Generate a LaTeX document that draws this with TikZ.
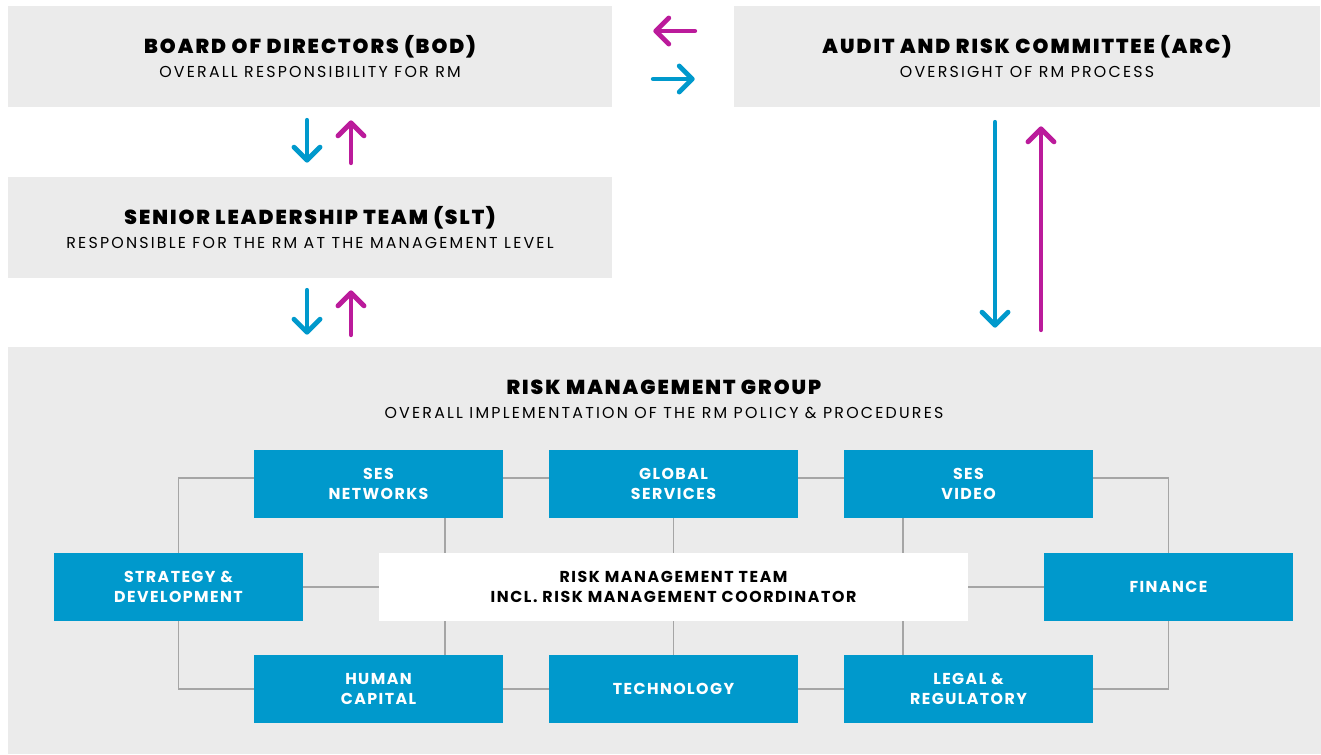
\documentclass[tikz,border=0pt]{standalone}
\usepackage{fontspec}
\setmainfont{Poppins}
\newfontfamily\headfont{Poppins Black}[LetterSpace=10]
\newfontfamily\subfont{Poppins}[LetterSpace=14]
\newfontfamily\boxfont{Poppins}[LetterSpace=9]
\usetikzlibrary{arrows.meta}

\definecolor{panelgray}{RGB}{235,235,235}
\definecolor{sesblue}{RGB}{0,153,204}
\definecolor{sesmagenta}{RGB}{187,27,155}
\definecolor{linkgray}{RGB}{165,165,165}

\newcommand{\paneltitle}[2]{{\headfont\fontsize{11.5}{13}\selectfont #1}\\[1.5pt]
	{\subfont\fontsize{9}{11}\selectfont #2}}

\begin{document}
\begin{tikzpicture}[x=0.02cm, y=-0.02cm,
	panel/.style = {fill = panelgray, inner sep = 0pt, align = center, minimum height = 2.02cm},
	unit/.style = {fill = sesblue, text = white, inner sep = 0pt, align = center,
		minimum width = 4.98cm, minimum height = 1.36cm,
		font = \boxfont\bfseries\fontsize{9}{11}\selectfont},
	link/.style = {draw = linkgray, line width = 1.1pt},
	flow/.style = {line width = 2.8pt, line cap = round,
		-{Straight Barb[length = 2.6mm, width = 5.2mm, round]}},
	down/.style = {flow, sesblue},
	up/.style = {flow, sesmagenta}]

	\useasboundingbox (0, 0) rectangle (1321, 754);

	% Governance boxes

	\node [panel, minimum width = 12.08cm] (bod) at (310, 56.5)
		{\paneltitle{BOARD OF DIRECTORS (BOD)}{OVERALL RESPONSIBILITY FOR RM}};
	\node [panel, minimum width = 11.72cm] (arc) at (1027, 56.5)
		{\paneltitle{AUDIT AND RISK COMMITTEE (ARC)}{OVERSIGHT OF RM PROCESS}};
	\node [panel, minimum width = 12.08cm] (slt) at (310, 227.5)
		{\paneltitle{SENIOR LEADERSHIP TEAM (SLT)}{RESPONSIBLE FOR THE RM AT THE MANAGEMENT LEVEL}};
	\node [panel, minimum width = 26.26cm, minimum height = 8.14cm] (rmg) at (664.5, 550.5) {};
	\node [align = center, inner sep = 0pt] (rmgtitle) at (664, 399)
		{\paneltitle{RISK MANAGEMENT GROUP}{OVERALL IMPLEMENTATION OF THE RM POLICY \& PROCEDURES}};

	% Reporting arrows

	\draw [up, shorten <= 0.78cm, shorten >= 0.82cm] ([yshift = 0.51cm] arc.west) -- ([yshift = 0.51cm] bod.east);
	\draw [down, shorten <= 0.82cm, shorten >= 0.78cm] ([yshift = -0.45cm] bod.east) -- ([yshift = -0.45cm] arc.west);

	\draw [down, shorten <= 0.26cm, shorten >= 0.28cm] ([xshift = -0.06cm] bod.south) -- ([xshift = -0.06cm] slt.north);
	\draw [up, shorten <= 0.28cm, shorten >= 0.26cm] ([xshift = 0.82cm] slt.north) -- ([xshift = 0.82cm] bod.south);

	\draw [down, shorten <= 0.24cm, shorten >= 0.24cm] ([xshift = -0.06cm] slt.south) -- ([xshift = -0.06cm] rmg.north -| slt.south);
	\draw [up, shorten <= 0.24cm, shorten >= 0.24cm] ([xshift = 0.82cm] rmg.north -| slt.south) -- ([xshift = 0.82cm] slt.south);

	\draw [down, shorten <= 0.3cm, shorten >= 0.38cm] ([xshift = -0.64cm] arc.south) -- ([xshift = -0.64cm] rmg.north -| arc.south);
	\draw [up, shorten <= 0.34cm, shorten >= 0.38cm] ([xshift = 0.28cm] rmg.north -| arc.south) -- ([xshift = 0.28cm] arc.south);

	% Business units

	\node [unit] (networks) at (378.5, 484) {SES\\NETWORKS};
	\node [unit] (services) at (673.5, 484) {GLOBAL\\SERVICES};
	\node [unit] (video) at (968.5, 484) {SES\\VIDEO};
	\node [unit] (strategy) at (178.5, 587) {STRATEGY \&\\DEVELOPMENT};
	\node [unit, fill = white, text = black, minimum width = 11.78cm,
		font = \boxfont\bfseries\fontsize{9}{11}\selectfont\addfontfeature{LetterSpace=10}] (team) at (673.5, 587)
		{RISK MANAGEMENT TEAM\\INCL. RISK MANAGEMENT COORDINATOR};
	\node [unit] (finance) at (1168.5, 587) {FINANCE};
	\node [unit] (capital) at (378.5, 689) {HUMAN\\CAPITAL};
	\node [unit] (technology) at (673.5, 689) {TECHNOLOGY};
	\node [unit] (legal) at (968.5, 689) {LEGAL \&\\REGULATORY};

	% Links between units

	\begin{scope}[link]

		\draw ([yshift = 0.12cm] networks.east) -- ([yshift = 0.12cm] services.west);
		\draw ([yshift = 0.12cm] services.east) -- ([yshift = 0.12cm] video.west);
		\draw ([yshift = 0.12cm] networks.west) -| (strategy.north);
		\draw ([yshift = 0.12cm] video.east) -| (finance.north);
		\draw (capital) -- (technology);
		\draw (technology) -- (legal);
		\draw (strategy.south) |- (capital.west);
		\draw (finance.south) |- (legal.east);
		\draw (strategy) -- (team);
		\draw (team) -- (finance);
		\draw (services) -- (team);
		\draw (team) -- (technology);
		\draw ([xshift = 1.33cm] networks.south) -- ([xshift = 1.33cm] networks.south |- team.north);
		\draw ([xshift = 1.33cm] capital.north) -- ([xshift = 1.33cm] capital.north |- team.south);
		\draw ([xshift = -1.31cm] video.south) -- ([xshift = -1.31cm] video.south |- team.north);
		\draw ([xshift = -1.31cm] legal.north) -- ([xshift = -1.31cm] legal.north |- team.south);

	\end{scope}

\end{tikzpicture}
\end{document}
